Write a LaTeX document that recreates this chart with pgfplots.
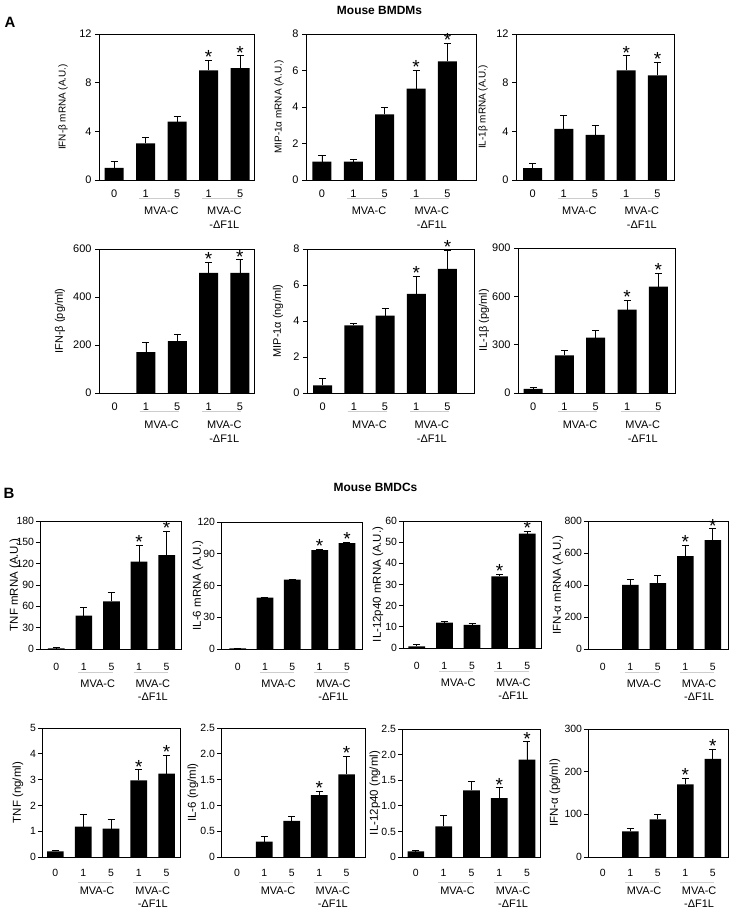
\documentclass[border=0pt]{standalone}
\usepackage{fontspec}
\setmainfont{Liberation Sans}
\usepackage{pgfplots}
\pgfplotsset{compat=1.18}
\definecolor{sepgray}{RGB}{205,205,205}
\newcommand{\fs}[1]{\fontsize{#1}{#1}\selectfont}

\pgfplotsset{
  panel/.style={
    scale only axis, ybar, ymin=0, clip=false, anchor=south west,
    xtick={0,1,2,3,4}, xticklabels={0,1,5,1,5},
    major x tick style={draw=none},
    major y tick style={black, line width=0.8pt},
    tick align=outside, ytick pos=left, xtick pos=bottom,
    major tick length=4bp,
    axis line style={black, line width=0.8pt},
    tick label style={font=\fs{11}},
    /pgf/number format/assume math mode=true,
    ylabel style={anchor=center, font=\fs{11}},
    yticklabel style={anchor=east},
    xticklabel style={anchor=center},
  },
  rowA/.style={bar width=19bp, xticklabel style={yshift=-10bp}},
  rowB/.style={bar width=16.7bp, xticklabel style={yshift=-14bp},
    tick label style={font=\fs{10.5}}, yticklabel style={xshift=1.5bp}},
  rowBB/.style={bar width=16.7bp, xticklabel style={yshift=-12bp},
    tick label style={font=\fs{10.5}}, yticklabel style={xshift=1.5bp}},
  yl/.style={ylabel style={at={([xshift=-#1]axis description cs:0,0.5)}}},
  data/.style={fill=black, draw=none,
    error bars/.cd, y dir=plus, y explicit,
    error bar style={black, line width=0.8pt},
    error mark options={rotate=90, black, line width=0.8pt, mark size=3.5bp}},
}
\tikzset{starnode/.style={anchor=base, inner sep=0pt, font=\fs{19}, yshift=-3.5bp}}
\newcommand{\st}[2]{\node[starnode] at (axis cs:#1,#2) {*};}
\newcommand{\grp}[3]{%
  \draw[sepgray, line width=0.8pt] ([yshift=-#1]axis cs:0.8,0) -- ([yshift=-#1]axis cs:2.05,0);
  \draw[sepgray, line width=0.8pt] ([yshift=-#1]axis cs:2.8,0) -- ([yshift=-#1]axis cs:4.05,0);
  \node[font=\fs{11}] at ([yshift=-#2]axis cs:1.5,0) {MVA-C};
  \node[font=\fs{11}] at ([yshift=-#2]axis cs:3.5,0) {MVA-C};
  \node[font=\fs{11}] at ([yshift=-#3]axis cs:3.5,0) {-ΔF1L};
}

\begin{document}
\begin{tikzpicture}
\path[use as bounding box, fill=white] (0,0) rectangle (731bp,915bp);

\node[font=\bfseries\fs{12}] at (379.5bp,905bp) {Mouse BMDMs};
\node[font=\bfseries\fs{12}] at (375.5bp,428bp) {Mouse BMDCs};
\node[font=\bfseries\fs{15}] at (10bp,893bp) {A};
\node[font=\bfseries\fs{15}] at (9bp,422bp) {B};

% ---------------- Row A1 ----------------
\begin{axis}[panel, rowA, at={(99bp,735bp)}, width=155bp, height=146bp,
  xmin=-0.48, xmax=4.44, ymax=12, ytick={0,4,8,12},
  ylabel={IFN-β mRNA (A.U.)}, yl=36bp, ylabel style={font=\fs{10}}]
\addplot[data] coordinates {(0,1.0) +- (0,0.55) (1,3.0) +- (0,0.5) (2,4.8) +- (0,0.4) (3,9.0) +- (0,0.85) (4,9.2) +- (0,1.0)};
\st{3}{9.85}\st{4}{10.2}
\grp{18bp}{31bp}{45bp}
\end{axis}

\begin{axis}[panel, rowA, at={(306bp,735bp)}, width=170bp, height=146bp,
  xmin=-0.51, xmax=4.91, ymax=8, ytick={0,2,4,6,8},
  ylabel={MIP-1α  mRNA (A.U.)}, yl=27bp, ylabel style={font=\fs{10}}]
\addplot[data] coordinates {(0,1.0) +- (0,0.37) (1,1.0) +- (0,0.15) (2,3.6) +- (0,0.37) (3,5.0) +- (0,1.0) (4,6.5) +- (0,1.0)};
\st{3}{6.0}\st{4}{7.5}
\grp{18bp}{31bp}{45bp}
\end{axis}

\begin{axis}[panel, rowA, at={(516bp,735bp)}, width=158bp, height=146bp,
  xmin=-0.53, xmax=4.53, ymax=12, ytick={0,4,8,12},
  ylabel={IL-1β  mRNA (A.U.)}, yl=33bp, ylabel style={font=\fs{10}}]
\addplot[data] coordinates {(0,0.97) +- (0,0.4) (1,4.2) +- (0,1.1) (2,3.7) +- (0,0.8) (3,9.0) +- (0,1.2) (4,8.6) +- (0,1.1)};
\st{3}{10.2}\st{4}{9.7}
\grp{18bp}{31bp}{45bp}
\end{axis}

% ---------------- Row A2 ----------------
\begin{axis}[panel, rowA, at={(99bp,522bp)}, width=155bp, height=144bp,
  xmin=-0.5, xmax=4.45, ymax=600, ytick={0,200,400,600},
  ylabel={IFN-β (pg/ml)}, yl=39bp]
\addplot[data] coordinates {(1,170) +- (0,40) (2,216) +- (0,30) (3,500) +- (0,45) (4,500) +- (0,55)};
\st{3}{545}\st{4}{555}
\grp{18bp}{32bp}{46bp}
\end{axis}

\begin{axis}[panel, rowA, at={(307bp,522bp)}, width=167bp, height=144bp,
  xmin=-0.5, xmax=4.85, ymax=8, ytick={0,2,4,6,8},
  ylabel={MIP-1α  (ng/ml)}, yl=29bp]
\addplot[data] coordinates {(0,0.42) +- (0,0.37) (1,3.75) +- (0,0.13) (2,4.3) +- (0,0.38) (3,5.5) +- (0,1.0) (4,6.9) +- (0,1.02)};
\st{3}{6.5}\st{4}{7.92}
\grp{18bp}{32bp}{46bp}
\end{axis}

\begin{axis}[panel, rowA, at={(518bp,522bp)}, width=157bp, height=145bp,
  xmin=-0.48, xmax=4.53, ymax=900, ytick={0,300,600,900},
  ylabel={IL-1β (pg/ml)}, yl=34bp]
\addplot[data] coordinates {(0,25) +- (0,10) (1,233) +- (0,29) (2,344) +- (0,43) (3,517) +- (0,60) (4,660) +- (0,82)};
\st{3}{577}\st{4}{742}
\grp{18bp}{32bp}{46bp}
\end{axis}

% ---------------- Row B1 ----------------
\begin{axis}[panel, rowB, at={(40bp,266bp)}, width=141bp, height=128bp,
  xmin=-0.59, xmax=4.52, ymax=180, ytick={0,30,60,90,120,150,180},
  ylabel={TNF mRNA (A.U.)}, yl=25bp, ylabel style={font=\fs{11.5}}]
\addplot[data] coordinates {(0,1) +- (0,1) (1,47) +- (0,12) (2,67) +- (0,12.5) (3,123) +- (0,23) (4,132) +- (0,34)};
\st{3}{146}\st{4}{166}
\grp{23bp}{35bp}{48bp}
\end{axis}

\begin{axis}[panel, rowB, at={(221bp,266bp)}, width=141bp, height=127bp,
  xmin=-0.61, xmax=4.55, ymax=120, ytick={0,30,60,90,120},
  ylabel={IL-6 mRNA (A.U.)}, yl=23bp, ylabel style={font=\fs{11.5}}]
\addplot[data] coordinates {(0,0.6) +- (0,0.4) (1,48.5) +- (0,0.7) (2,65.5) +- (0,0.6) (3,93.5) +- (0,1) (4,100) +- (0,1)};
\st{3}{94.5}\st{4}{101}
\grp{23bp}{35bp}{48bp}
\end{axis}

\begin{axis}[panel, rowB, at={(403bp,267bp)}, width=138bp, height=127bp,
  xmin=-0.5, xmax=4.5, ymax=60, ytick={0,10,20,30,40,50,60},
  ylabel={IL-12p40 mRNA (A.U.)}, yl=25bp, ylabel style={font=\fs{11.5}}]
\addplot[data] coordinates {(0,0.8) +- (0,0.7) (1,12) +- (0,0.5) (2,10.9) +- (0,0.5) (3,33.8) +- (0,1) (4,54) +- (0,1.2)};
\st{3}{34.8}\st{4}{55.2}
\grp{23bp}{35bp}{48bp}
\end{axis}

\begin{axis}[panel, rowB, at={(588bp,266bp)}, width=140bp, height=128bp,
  xmin=-0.54, xmax=4.55, ymax=800, ytick={0,200,400,600,800},
  ylabel={IFN-α mRNA (A.U.)}, yl=30bp, ylabel style={font=\fs{11.5}}]
\addplot[data] coordinates {(1,400) +- (0,37) (2,412) +- (0,50) (3,580) +- (0,70) (4,680) +- (0,72)};
\st{3}{650}\st{4}{752}
\grp{23bp}{35bp}{48bp}
\end{axis}

% ---------------- Row B2 ----------------
\begin{axis}[panel, rowBB, at={(42bp,58bp)}, width=138bp, height=129bp,
  xmin=-0.48, xmax=4.48, ymax=5, ytick={0,1,2,3,4,5},
  ylabel={TNF (ng/ml)}, yl=24bp, ylabel style={font=\fs{11.5}}]
\addplot[data] coordinates {(0,0.22) +- (0,0.04) (1,1.18) +- (0,0.48) (2,1.1) +- (0,0.35) (3,2.97) +- (0,0.42) (4,3.23) +- (0,0.72)};
\st{3}{3.39}\st{4}{3.95}
\grp{25bp}{34bp}{47bp}
\end{axis}

\begin{axis}[panel, rowBB, at={(221bp,58bp)}, width=144bp, height=129bp,
  xmin=-0.58, xmax=4.67, ymax=2.5, ytick={0,0.5,1,1.5,2,2.5},
  yticklabels={0,0.5,1.0,1.5,2.0,2.5},
  ylabel={IL-6 (ng/ml)}, yl=28bp, ylabel style={font=\fs{11.5}}]
\addplot[data] coordinates {(1,0.3) +- (0,0.1) (2,0.7) +- (0,0.08) (3,1.2) +- (0,0.07) (4,1.6) +- (0,0.35)};
\st{3}{1.27}\st{4}{1.95}
\grp{25bp}{34bp}{47bp}
\end{axis}

\begin{axis}[panel, rowBB, at={(402bp,58bp)}, width=138bp, height=128bp,
  xmin=-0.5, xmax=4.47, ymax=2.5, ytick={0,0.5,1,1.5,2,2.5},
  yticklabels={0,0.5,1.0,1.5,2.0,2.5},
  ylabel={IL-12p40 (ng/ml)}, yl=27bp, ylabel style={font=\fs{11.5}}]
\addplot[data] coordinates {(0,0.11) +- (0,0.015) (1,0.6) +- (0,0.22) (2,1.3) +- (0,0.17) (3,1.15) +- (0,0.2) (4,1.9) +- (0,0.35)};
\st{3}{1.35}\st{4}{2.25}
\grp{25bp}{34bp}{47bp}
\end{axis}

\begin{axis}[panel, rowBB, at={(588bp,58bp)}, width=140bp, height=128bp,
  xmin=-0.54, xmax=4.55, ymax=300, ytick={0,100,200,300},
  ylabel={IFN-α (pg/ml)}, yl=33bp, ylabel style={font=\fs{11.5}}]
\addplot[data] coordinates {(1,60) +- (0,7) (2,88) +- (0,12) (3,170) +- (0,15) (4,230) +- (0,23)};
\st{3}{185}\st{4}{253}
\grp{25bp}{34bp}{47bp}
\end{axis}

\end{tikzpicture}
\end{document}
